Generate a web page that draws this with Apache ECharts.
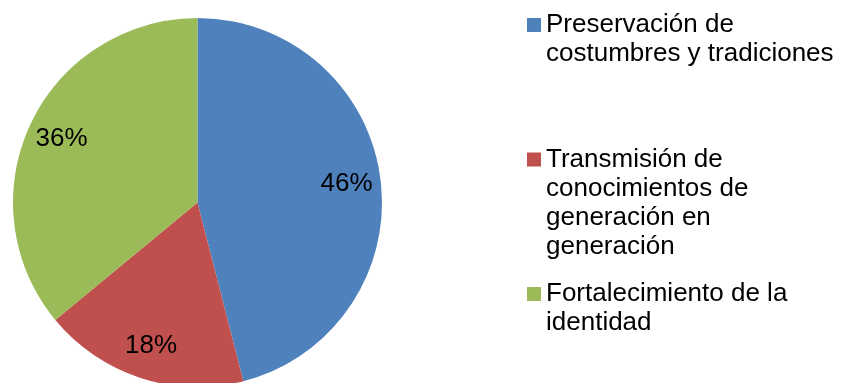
<!DOCTYPE html>
<html>
<head>
<meta charset="utf-8">
<script src="https://cdn.jsdelivr.net/npm/echarts@6/dist/echarts.min.js"></script>
<style>
  html, body { margin: 0; padding: 0; background: #fff; }
  #chart { width: 843px; height: 383px; }
</style>
</head>
<body>
<div id="chart"></div>
<script>
// Categories, shares (percent) and slice colours
const categories = [
  'Preservación de\ncostumbres y tradiciones',
  'Transmisión de\nconocimientos de\ngeneración en\ngeneración',
  'Fortalecimiento de la\nidentidad'
];
const shares = [46, 18, 36];
const colors = ['#4F81BD', '#C0504D', '#9BBB59'];

const FONT = '"Liberation Sans", Arial, Helvetica, sans-serif';
const FONT_SIZE = 26;
const LINE_H = 29;

const pieData = categories.map((name, i) => ({ name, value: shares[i] }));

// Legend entries: one block per category, the square sits next to the first line
const legendTops = [-18.5, 58, 250.5];
const legends = categories.map((name, i) => {
  const lines = name.split('\n').length;
  return {
    orient: 'vertical',
    left: 527,
    top: legendTops[i],
    padding: 0,
    itemWidth: 14,
    itemHeight: 14,
    icon: 'rect',
    selectedMode: false,
    data: [{ name, itemStyle: { color: colors[i] } }],
    // pad with empty lines above so the block is centred on its first line
    formatter: (n) => '\n'.repeat(lines - 1) + n,
    textStyle: {
      fontFamily: FONT,
      fontSize: FONT_SIZE,
      lineHeight: LINE_H,
      color: '#000'
    }
  };
});

const chart = echarts.init(document.getElementById('chart'), null, { renderer: 'canvas' });
chart.setOption({
  backgroundColor: '#fff',
  animation: false,
  color: colors,
  legend: legends,
  series: [
    {
      type: 'pie',
      center: [197.5, 202.5],
      radius: [0, 184.5],
      startAngle: 90,
      clockwise: true,
      silent: true,
      label: { show: false },
      labelLine: { show: false },
      itemStyle: { borderWidth: 0 },
      emphasis: { disabled: true },
      data: pieData
    },
    {
      // percentage labels, placed in an outer ring of the same pie
      type: 'pie',
      center: [197.5, 202.5],
      radius: [110, 184.5],
      startAngle: 90,
      clockwise: true,
      silent: true,
      itemStyle: { color: 'rgba(0,0,0,0)', borderWidth: 0 },
      label: {
        show: true,
        position: 'inside',
        formatter: '{c}%',
        fontFamily: FONT,
        fontSize: FONT_SIZE,
        color: '#000'
      },
      labelLine: { show: false },
      emphasis: { disabled: true },
      data: pieData
    }
  ]
});
</script>
</body>
</html>
